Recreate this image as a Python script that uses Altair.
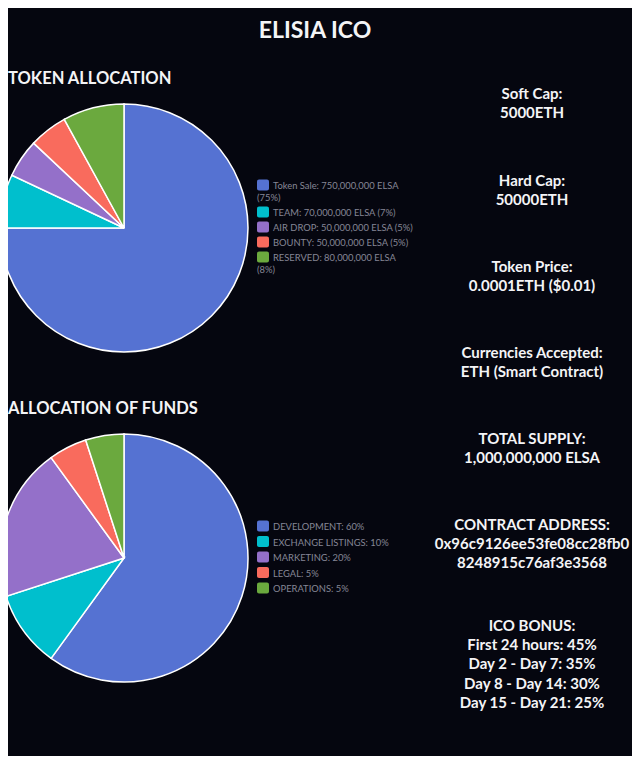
import altair as alt
import pandas as pd

# ---- data ----
token_cats = ["Token Sale", "TEAM", "AIR DROP", "BOUNTY", "RESERVED"]
token_vals = [750, 70, 50, 50, 80]
token_labels = [
    ["Token Sale: 750,000,000 ELSA", "(75%)"],
    ["TEAM: 70,000,000 ELSA (7%)"],
    ["AIR DROP: 50,000,000 ELSA (5%)"],
    ["BOUNTY: 50,000,000 ELSA (5%)"],
    ["RESERVED: 80,000,000 ELSA", "(8%)"],
]
fund_cats = ["DEVELOPMENT", "EXCHANGE LISTINGS", "MARKETING", "LEGAL", "OPERATIONS"]
fund_vals = [60, 10, 20, 5, 5]
fund_labels = [
    ["DEVELOPMENT: 60%"],
    ["EXCHANGE LISTINGS: 10%"],
    ["MARKETING: 20%"],
    ["LEGAL: 5%"],
    ["OPERATIONS: 5%"],
]
colors = ["#5572d2", "#00bfcd", "#9470c9", "#f96b5d", "#6ba93e"]

info_blocks = [
    ["Soft Cap:", "5000ETH"],
    ["Hard Cap:", "50000ETH"],
    ["Token Price:", "0.0001ETH ($0.01)"],
    ["Currencies Accepted:", "ETH (Smart Contract)"],
    ["TOTAL SUPPLY:", "1,000,000,000 ELSA"],
    ["CONTRACT ADDRESS:", "0x96c9126ee53fe08cc28fb0", "8248915c76af3e3568"],
    ["ICO BONUS:", "First 24 hours: 45%", "Day 2 - Day 7: 35%",
     "Day 8 - Day 14: 30%", "Day 15 - Day 21: 25%"],
]

title = "ELISIA ICO"
section_titles = ["TOKEN ALLOCATION", "ALLOCATION OF FUNDS"]

# ---- layout (page coords minus 8px page margin) ----
OFF = 8
TY = -1  # text vertical correction
BG = "#05060f"
FONT = "Lato"
WHITE = "#f4f4f6"
LEG_TEXT = "#858696"

layers = []


def text_layer(txt, x, y, size, weight="bold", color=WHITE, align="center"):
    return alt.Chart(pd.DataFrame({"t": [txt]})).mark_text(
        font=FONT, fontSize=size, fontWeight=weight, color=color,
        align=align, baseline="middle"
    ).encode(text="t:N", x=alt.value(x - OFF), y=alt.value(y - OFF - TY))


layers.append(text_layer(title, 315, 30, 23))
layers.append(text_layer(section_titles[0], 8, 78, 16.5, align="left"))
layers.append(text_layer(section_titles[1], 8, 408, 16.5, align="left"))


def pie(cats, vals, cy):
    df = pd.DataFrame({"cat": cats, "value": vals, "idx": list(range(len(cats)))})
    return alt.Chart(df).mark_arc(
        outerRadius=124, stroke="white", strokeWidth=1.5
    ).encode(
        theta=alt.Theta("value:Q", stack=True),
        color=alt.Color("cat:N", scale=alt.Scale(domain=cats, range=colors),
                        legend=None, sort=cats),
        order=alt.Order("idx:Q"),
        x=alt.value(124 - OFF),
        y=alt.value(cy - OFF),
    )


layers.append(pie(token_cats, token_vals, 228))
layers.append(pie(fund_cats, fund_vals, 558))


def legend(labels, y0, line_h, item_gap):
    out = []
    y = y0
    for i, lines in enumerate(labels):
        sw = alt.Chart(pd.DataFrame({"c": [i]})).mark_rect(
            cornerRadius=2, color=colors[i]
        ).encode(
            x=alt.value(257 - OFF), x2=alt.value(269 - OFF),
            y=alt.value(y - 5.5 - OFF), y2=alt.value(y + 5.5 - OFF),
        )
        out.append(sw)
        out.append(text_layer(lines[0], 273, y, 9.4, weight="normal",
                              color=LEG_TEXT, align="left"))
        yy = y
        for extra in lines[1:]:
            yy += line_h
            out.append(text_layer(extra, 257, yy, 9.4, weight="normal",
                                  color=LEG_TEXT, align="left"))
        y = yy + item_gap
    return out


layers += legend(token_labels, 185, 12, 15)
layers += legend(fund_labels, 526, 12, 15.5)

block_tops = [93, 180, 266, 352, 438, 524, 625]
for top, lines in zip(block_tops, info_blocks):
    for j, ln in enumerate(lines):
        layers.append(text_layer(ln, 532, top + j * 19.2, 15))

chart = alt.layer(*layers).resolve_scale(
    color="independent", theta="independent"
).properties(
    width=624, height=748, background=BG,
    autosize=alt.AutoSizeParams(type="none"), padding=0,
).configure_view(stroke=None)

chart.save("out.html", embed_options={"renderer": "svg", "actions": False})
